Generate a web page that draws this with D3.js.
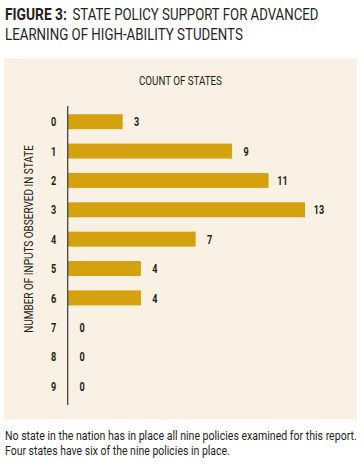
<!DOCTYPE html>
<html><head><meta charset="utf-8">
<script src="https://cdn.jsdelivr.net/npm/d3@7"></script>
<style>
html,body{margin:0;padding:0;background:#fff;}
svg{display:block;}
</style></head>
<body>
<script>
const categories = ["0","1","2","3","4","5","6","7","8","9"];
const counts = [3, 9, 11, 13, 7, 4, 4, 0, 0, 0];
const titleBold = "FIGURE 3:";
const titleLine1 = "STATE POLICY SUPPORT FOR ADVANCED";
const titleLine2 = "LEARNING OF HIGH-ABILITY STUDENTS";
const xAxisTitle = "COUNT OF STATES";
const yAxisTitle = "NUMBER OF INPUTS OBSERVED IN STATE";
const notes = ["No state in the nation has in place all nine policies examined for this report.",
               "Four states have six of the nine policies in place."];

const W = 364, H = 472;
const font = "Roboto, 'Liberation Sans', sans-serif";
const ink = "#231f20";
const svg = d3.select("body").append("svg").attr("width", W).attr("height", H);

// place a text at (x, y) squeezed horizontally to a given width (anchor: start or middle)
function placeFit(parent, str, x, y, len, opts) {
  const g = parent.append("g");
  const t = g.append("text").attr("font-family", font).attr("font-size", opts.size)
    .attr("font-weight", opts.weight || "normal").attr("fill", ink)
    .attr("text-anchor", opts.anchor || "start").text(str);
  const w = t.node().getComputedTextLength();
  const sx = len ? len / w : opts.factor;
  g.attr("transform", `translate(${x},${y})${opts.rotate ? " rotate(" + opts.rotate + ")" : ""} scale(${sx},1)`);
  return g;
}

// title
placeFit(svg, titleBold, 5, 19.5, 62, {size: 17, weight: "bold"});
placeFit(svg, titleLine1, 72.5, 19.5, 246, {size: 17});
placeFit(svg, titleLine2, 5, 40, 238, {size: 17});

// panel
svg.append("rect").attr("x", 4).attr("y", 58.5).attr("width", 353).attr("height", 361).attr("fill", "#f9f1e3");

const x = d3.scaleLinear().domain([0, 13]).range([68, 305]);
const y = d3.scaleBand().domain(categories).range([114.2, 393.5]).paddingInner(0.49).paddingOuter(0);

placeFit(svg, xAxisTitle, 139, 85, 83, {size: 13.5});
placeFit(svg, yAxisTitle, 33, 239, 188, {size: 13.5, anchor: "middle", rotate: -90});

svg.selectAll("rect.bar").data(counts).join("rect").attr("class", "bar")
  .attr("x", x(0)).attr("y", (d, i) => y(categories[i]))
  .attr("width", d => x(d) - x(0)).attr("height", y.bandwidth()).attr("fill", "#d4a10f");

// category axis (ticks drawn by d3.axisLeft, labels condensed)
const yAxis = svg.append("g").attr("transform", "translate(53.5,0)")
  .call(d3.axisLeft(y).tickSize(0).tickPadding(0));
yAxis.select(".domain").remove();
yAxis.selectAll(".tick text").each(function () {
  const tk = d3.select(this);
  tk.attr("font-family", font).attr("font-size", 13).attr("font-weight", "bold")
    .attr("fill", ink).attr("text-anchor", "middle").attr("x", 0).attr("dy", "0.36em")
    .attr("transform", "scale(0.7,1)");
});

svg.append("line").attr("x1", 67.7).attr("x2", 67.7).attr("y1", 106).attr("y2", 405)
  .attr("stroke", "#4a4540").attr("stroke-width", 1.3);

svg.selectAll("g.val").data(counts).join("g").attr("class", "val")
  .attr("transform", (d, i) => `translate(${x(d) + 14},${y(categories[i]) + y.bandwidth() / 2}) scale(0.7,1)`)
  .append("text").attr("dy", "0.36em").attr("text-anchor", "middle")
  .attr("font-family", font).attr("font-size", 13).attr("font-weight", "bold").attr("fill", ink)
  .text(d => d);

const noteLens = [352, 225];
notes.forEach((n, i) => placeFit(svg, n, 5, 440 + i * 15, noteLens[i], {size: 12}));
</script>
</body></html>
